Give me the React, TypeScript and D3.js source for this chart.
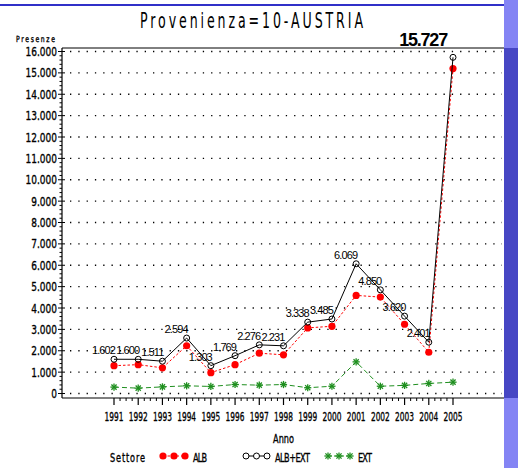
import React from "react";
import * as d3 from "d3";

const years = [1991, 1992, 1993, 1994, 1995, 1996, 1997, 1998, 1999, 2000, 2001, 2002, 2003, 2004, 2005];
const albExt = [1602, 1600, 1511, 2594, 1303, 1769, 2276, 2231, 3338, 3485, 6069, 4850, 3620, 2401, 15727];
const alb = [1300, 1350, 1200, 2235, 975, 1350, 1885, 1810, 3070, 3145, 4590, 4510, 3240, 1930, 15200];
const ext = [300, 250, 310, 360, 330, 420, 390, 420, 270, 340, 1480, 340, 380, 470, 530];
const yTicks = d3.range(0, 16001, 1000);
const title = "Provenienza=10-AUSTRIA";
const legendItems = ["ALB", "ALB+EXT", "EXT"];

const W = 518;
const H = 468;
const AX_L = 62;
const AX_R = 504;
const AX_B = 398;
const AX_T = 48;

const fmt = (v: number) => d3.format(",")(v).replace(/,/g, ".");

const RED = "#ff0000";
const GREEN = "#1f8f1f";
const NARROW = "'DejaVu Sans', sans-serif";

function Narrow({ x, y, sx, size, anchor, children, len, heavy }: any) {
  return (
    <text
      transform={`translate(${x},${y}) scale(${sx},1)`}
      fontSize={size}
      fontFamily={NARROW}
      textAnchor={anchor || "start"}
      textLength={len ? len / sx : undefined}
      lengthAdjust={len ? "spacing" : undefined}
      fill="#000"
      stroke={heavy ? "#000" : undefined}
      strokeWidth={heavy ? 0.35 : undefined}
    >
      {children}
    </text>
  );
}

function Star({ x, y, r, color }: any) {
  const d = r * 0.72;
  return (
    <g stroke={color} strokeWidth={1.3}>
      <line x1={x - r} y1={y} x2={x + r} y2={y} />
      <line x1={x} y1={y - r} x2={x} y2={y + r} />
      <line x1={x - d} y1={y - d} x2={x + d} y2={y + d} />
      <line x1={x - d} y1={y + d} x2={x + d} y2={y - d} />
    </g>
  );
}

export default function App() {
  const x = d3.scaleLinear().domain([1991, 2005]).range([114, 453]);
  const y = d3.scaleLinear().domain([0, 16000]).range([393.5, 51.5]);
  const line = (vals: number[]) =>
    d3.line<number>().x((_, i) => x(years[i])).y((v) => y(v))(vals) || "";

  const minorY: number[] = [];
  for (let v = 0; v <= 16000; v += 200) if (v % 1000 !== 0) minorY.push(v);
  const minorX: number[] = [];
  for (let i = 0; i < years.length - 1; i++) for (let k = 1; k < 4; k++) minorX.push(years[i] + k / 4);

  const legY = 456;

  return (
    <svg width={W} height={H} style={{ position: "absolute", left: 0, top: 0, background: "#fff" }}>
      <rect x={0} y={0} width={W} height={H} fill="#fff" />
      {/* window decorations */}
      <line x1={0} x2={504} y1={5} y2={5} stroke="#3030c8" strokeWidth={2} />
      <rect x={504} y={0} width={14} height={H} fill="#8484f4" />
      <rect x={504} y={AX_T} width={14} height={AX_B - AX_T} fill="#4646c4" />

      {/* title */}
      <Narrow x={251.5} y={28} sx={0.6} size={21} anchor="middle" len={223}>{title}</Narrow>

      {/* gridlines */}
      {yTicks.map((t) => (
        <line key={"g" + t} x1={AX_L + 8} x2={AX_R - 2} y1={y(t)} y2={y(t)} stroke="#000" strokeWidth={1.3} strokeDasharray="1.3 7" />
      ))}

      {/* frame */}
      <line x1={AX_L} x2={AX_R} y1={AX_T} y2={AX_T} stroke="#000" strokeWidth={1} />
      <line x1={AX_L} x2={AX_R} y1={AX_B} y2={AX_B} stroke="#000" strokeWidth={1.2} />
      <line x1={AX_L} x2={AX_L} y1={AX_T} y2={AX_B} stroke="#000" strokeWidth={1.2} />

      {/* y ticks */}
      {yTicks.map((t) => (
        <g key={"yt" + t}>
          <line x1={AX_L - 4} x2={AX_L + 3} y1={y(t)} y2={y(t)} stroke="#000" />
          <Narrow x={57} y={y(t) + 4.6} sx={0.72} size={12.5} anchor="end" heavy>{fmt(t)}</Narrow>
        </g>
      ))}
      {minorY.map((t) => (
        <line key={"ym" + t} x1={AX_L - 2.5} x2={AX_L} y1={y(t)} y2={y(t)} stroke="#000" />
      ))}
      <Narrow x={16} y={42} sx={0.72} size={8.5} len={39} heavy>Presenze</Narrow>

      {/* x ticks */}
      {years.map((yr) => (
        <g key={"xt" + yr}>
          <line x1={x(yr)} x2={x(yr)} y1={AX_B} y2={AX_B + 7} stroke="#000" strokeWidth={1.2} />
          <Narrow x={x(yr)} y={421} sx={0.62} size={12} anchor="middle" heavy>{String(yr)}</Narrow>
        </g>
      ))}
      {minorX.map((v, i) => (
        <line key={"xm" + i} x1={x(v)} x2={x(v)} y1={AX_B} y2={AX_B + 3} stroke="#000" />
      ))}
      <Narrow x={283.5} y={442.5} sx={0.68} size={12} anchor="middle" heavy>Anno</Narrow>

      {/* EXT */}
      <path d={line(ext)} fill="none" stroke={GREEN} strokeWidth={1} strokeDasharray="5 3" />
      {ext.map((v, i) => (
        <Star key={"e" + i} x={x(years[i])} y={y(v)} r={3.6} color={GREEN} />
      ))}

      {/* ALB */}
      <path d={line(alb)} fill="none" stroke={RED} strokeWidth={1} strokeDasharray="2.5 2" />
      {alb.map((v, i) => (
        <circle key={"a" + i} cx={x(years[i])} cy={y(v)} r={3.6} fill={RED} />
      ))}

      {/* ALB+EXT */}
      <path d={line(albExt)} fill="none" stroke="#000" strokeWidth={1} />
      {albExt.map((v, i) => (
        <circle key={"b" + i} cx={x(years[i])} cy={y(v)} r={3} fill="none" stroke="#000" strokeWidth={1} />
      ))}

      {/* labels */}
      {albExt.slice(0, albExt.length - 1).map((v, i) => (
        <text
          key={"l" + i}
          x={x(years[i]) + 1}
          y={y(v) - 5}
          fontSize={11}
          fontFamily="'Liberation Sans', Arial, sans-serif"
          textAnchor="end"
          letterSpacing={-0.9}
          fill="#000"
        >
          {fmt(v)}
        </text>
      ))}
      <text
        x={447}
        y={46}
        fontSize={18}
        fontWeight="bold"
        fontFamily="'Liberation Sans', Arial, sans-serif"
        textAnchor="end"
        letterSpacing={-1.2}
        fill="#000"
      >
        {fmt(albExt[albExt.length - 1])}
      </text>

      {/* legend */}
      <Narrow x={110} y={461.5} sx={0.68} size={12} len={35} heavy>Settore</Narrow>
      <line x1={163} x2={185} y1={legY} y2={legY} stroke={RED} strokeWidth={1} strokeDasharray="2.5 2" />
      {[163, 174, 185].map((cx) => (
        <circle key={"lr" + cx} cx={cx} cy={legY} r={3.6} fill={RED} />
      ))}
      <Narrow x={193} y={461.5} sx={0.68} size={12} len={14} heavy>{legendItems[0]}</Narrow>
      <line x1={246} x2={267} y1={legY} y2={legY} stroke="#000" strokeWidth={1} />
      {[246, 256.5, 267].map((cx) => (
        <circle key={"lb" + cx} cx={cx} cy={legY} r={3} fill="#fff" stroke="#000" strokeWidth={1} />
      ))}
      <Narrow x={275} y={461.5} sx={0.68} size={12} len={35} heavy>{legendItems[1]}</Narrow>
      <line x1={328} x2={350} y1={legY} y2={legY} stroke={GREEN} strokeWidth={1} strokeDasharray="4 2" />
      {[328, 339, 350].map((cx) => (
        <Star key={"lg" + cx} x={cx} y={legY} r={3.6} color={GREEN} />
      ))}
      <Narrow x={358} y={461.5} sx={0.68} size={12} len={14} heavy>{legendItems[2]}</Narrow>
    </svg>
  );
}
